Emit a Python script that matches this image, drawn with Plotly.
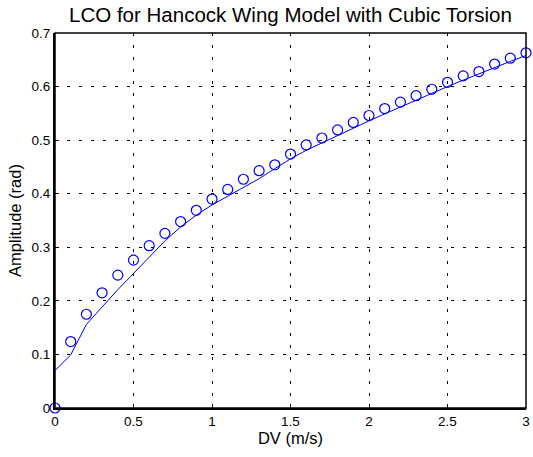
import plotly.graph_objects as go

dv = [round(0.1 * i, 1) for i in range(31)]

amp_points = [0.0, 0.124, 0.175, 0.215, 0.248, 0.276, 0.303, 0.326, 0.348, 0.369,
              0.390, 0.408, 0.427, 0.443, 0.454, 0.474, 0.491, 0.504, 0.519, 0.533,
              0.546, 0.559, 0.571, 0.583, 0.595, 0.608, 0.620, 0.628, 0.642, 0.653,
              0.663]

amp_line = [0.070, 0.099, 0.156, 0.189, 0.221, 0.251, 0.282, 0.312, 0.338, 0.360,
            0.379, 0.395, 0.411, 0.428, 0.447, 0.465, 0.481, 0.495, 0.509, 0.522,
            0.536, 0.549, 0.562, 0.574, 0.587, 0.600, 0.612, 0.624, 0.636, 0.647,
            0.658]

x_ticks = [0, 0.5, 1, 1.5, 2, 2.5, 3]
x_ticklabels = ["0", "0.5", "1", "1.5", "2", "2.5", "3"]
y_ticks = [0, 0.1, 0.2, 0.3, 0.4, 0.5, 0.6, 0.7]
y_ticklabels = ["0", "0.1", "0.2", "0.3", "0.4", "0.5", "0.6", "0.7"]

blue = "rgb(0,0,255)"

fig = go.Figure()
fig.add_trace(go.Scatter(x=dv, y=amp_line, mode="lines",
                         line=dict(color=blue, width=1), showlegend=False,
                         cliponaxis=True))
fig.add_trace(go.Scatter(x=dv, y=amp_points, mode="markers",
                         marker=dict(symbol="circle-open", size=10,
                                     color=blue, line=dict(width=1.2, color=blue)),
                         showlegend=False, cliponaxis=False))

fig.update_layout(
    width=533, height=457,
    margin=dict(l=55, r=3, t=33, b=49),
    paper_bgcolor="white", plot_bgcolor="white",
    font=dict(family="Liberation Sans, Arial, sans-serif", color="black", size=13.5),
    title=dict(text="LCO for Hancock Wing Model with Cubic Torsion",
               x=0.5, xref="paper", xanchor="center",
               y=1 - 14.5 / 457, yref="container", yanchor="middle",
               pad=dict(t=0, b=0),
               font=dict(size=20.5, color="black")),
    xaxis=dict(range=[0, 3], tickvals=x_ticks, ticktext=x_ticklabels,
               showgrid=True, gridcolor="black", griddash="3px,9px", gridwidth=1,
               showline=True, linecolor="black", linewidth=2,
               ticks="inside", ticklen=4, tickcolor="black",
               zeroline=False, ticklabeloverflow="allow",
               title=dict(text="DV (m/s)", font=dict(size=16.5), standoff=3)),
    yaxis=dict(range=[0, 0.7], tickvals=y_ticks, ticktext=y_ticklabels,
               showgrid=True, gridcolor="black", griddash="3px,9px", gridwidth=1,
               showline=True, linecolor="black", linewidth=2,
               ticks="inside", ticklen=4, tickcolor="black",
               zeroline=False, ticklabeloverflow="allow",
               title=dict(text="Amplitude (rad)", font=dict(size=16.5), standoff=6)),
    shapes=[dict(type="rect", xref="paper", yref="paper", x0=0, y0=0, x1=1, y1=1,
                 line=dict(color="black", width=1.5), layer="above")],
)

fig.write_html("out.html")
